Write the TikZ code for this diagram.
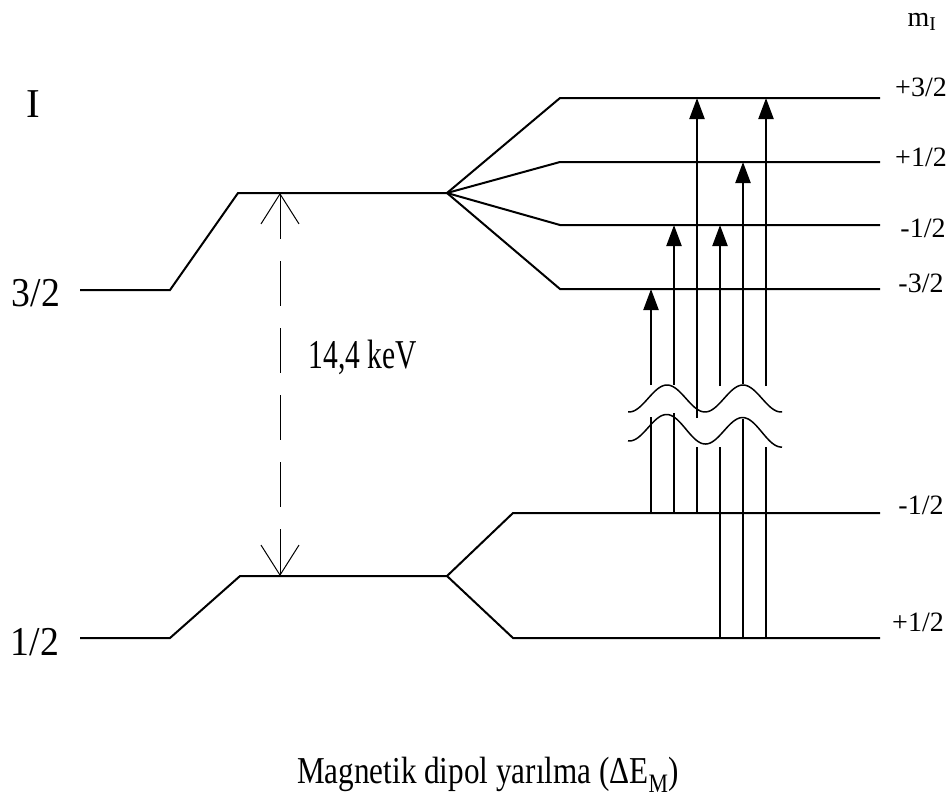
\documentclass[tikz,border=0pt]{standalone}
\usepackage{fontspec}
\setmainfont{Liberation Serif}
\usepackage{graphicx}
\usetikzlibrary{arrows.meta, calc}
\newcommand{\narrow}[2][0.8]{\scalebox{#1}[1]{#2}}

\begin{document}
\begin{tikzpicture}[x=1pt, y=-1pt,
    level/.style={line width=2pt, line join=miter},
    trans/.style={line width=2.2pt, -{Triangle[length=21pt, width=15pt]}},
    feet/.style={line width=1.4pt},
    wave/.style={line width=1.5pt},
    gap/.style={line width=1pt, dash pattern=on 45pt off 22pt,
      {Straight Barb[length=30pt, width=38pt, line width=1pt]}-{Straight Barb[length=30pt, width=38pt, line width=1pt]}},
    mlab/.style={font=\fontsize{28}{30}\selectfont},
    spin/.style={font=\fontsize{41}{44}\selectfont}]

  \useasboundingbox (0,0) rectangle (952,811);

  % excited state I = 3/2
  \coordinate (e0) at (80,290);
  \coordinate (e1) at (170,290);
  \coordinate (e2) at (238,193);
  \coordinate (ef) at (447,193);
  \draw[level] (e0) -- (e1) -- (e2) -- (ef);
  \foreach \n/\y in {ep32/98, ep12/162, em12/225, em32/289} {
    \coordinate (s\n) at (560,\y);
    \coordinate (\n) at (880,\y);
    \draw[level] (ef) -- (s\n) -- (\n);
  }

  % ground state I = 1/2
  \coordinate (g0) at (80,638);
  \coordinate (g1) at (170,638);
  \coordinate (g2) at (240,576);
  \coordinate (gf) at (447,576);
  \draw[level] (g0) -- (g1) -- (g2) -- (gf);
  \foreach \n/\y in {gm/513, gp/638} {
    \coordinate (s\n) at (513,\y);
    \coordinate (\n) at (880,\y);
    \draw[level] (gf) -- (s\n) -- (\n);
  }

  % energy gap
  \coordinate (dtop) at (280,193);
  \coordinate (dbot) at (280,576);
  \draw[gap] (dtop) -- (dbot);
  \node[font=\fontsize{41}{44}\selectfont] (gapl) at (363,357) {\narrow[0.72]{14,4 keV}};

  % break marks
  \draw[wave] plot[domain=628:782, samples=80] (\x, {398.5-13.5*cos((\x-667)*4.7368)});
  \draw[wave] plot[domain=628:782, samples=80] (\x, {428.5-14*cos((\x-667)*4.7368)+0.04*(\x-667)});

  % transitions
  \foreach \t/\lo/\hi/\ya/\yb in {651/gm/em32/385/417, 674/gm/em12/385/413, 697/gm/ep32/418/447,
                                  720/gp/em12/386/447, 743/gp/ep12/384/419, 766/gp/ep32/386/447} {
    \coordinate (t\t) at (\t,\ya);
    \coordinate (b\t) at (\t,\yb);
    \draw[feet] (b\t) -- (b\t |- \lo);
    \draw[trans] (t\t) -- (t\t |- \hi);
  }

  % labels
  \node[spin] (lI) at (33,104) {I};
  \node[spin] (l32) at (36,293) {\narrow[0.92]{3/2}};
  \node[spin] (l12) at (35,642) {\narrow[0.92]{1/2}};
  \node[mlab] (lm) at (922,22) {m\textsubscript{I}};
  \node[mlab] (lp32) at (921,87) {+3/2};
  \node[mlab] (lp12) at (921,157) {+1/2};
  \node[mlab] (lm12) at (923,228) {-1/2};
  \node[mlab] (lm32) at (921,283) {-3/2};
  \node[mlab] (lgm) at (921,505) {-1/2};
  \node[mlab] (lgp) at (918,622) {+1/2};

  \node[font=\fontsize{38}{42}\selectfont] (cap) at (488,775)
    {\narrow[0.82]{Magnetik dipol yarılma (ΔE\textsubscript{M})}};
\end{tikzpicture}
\end{document}
